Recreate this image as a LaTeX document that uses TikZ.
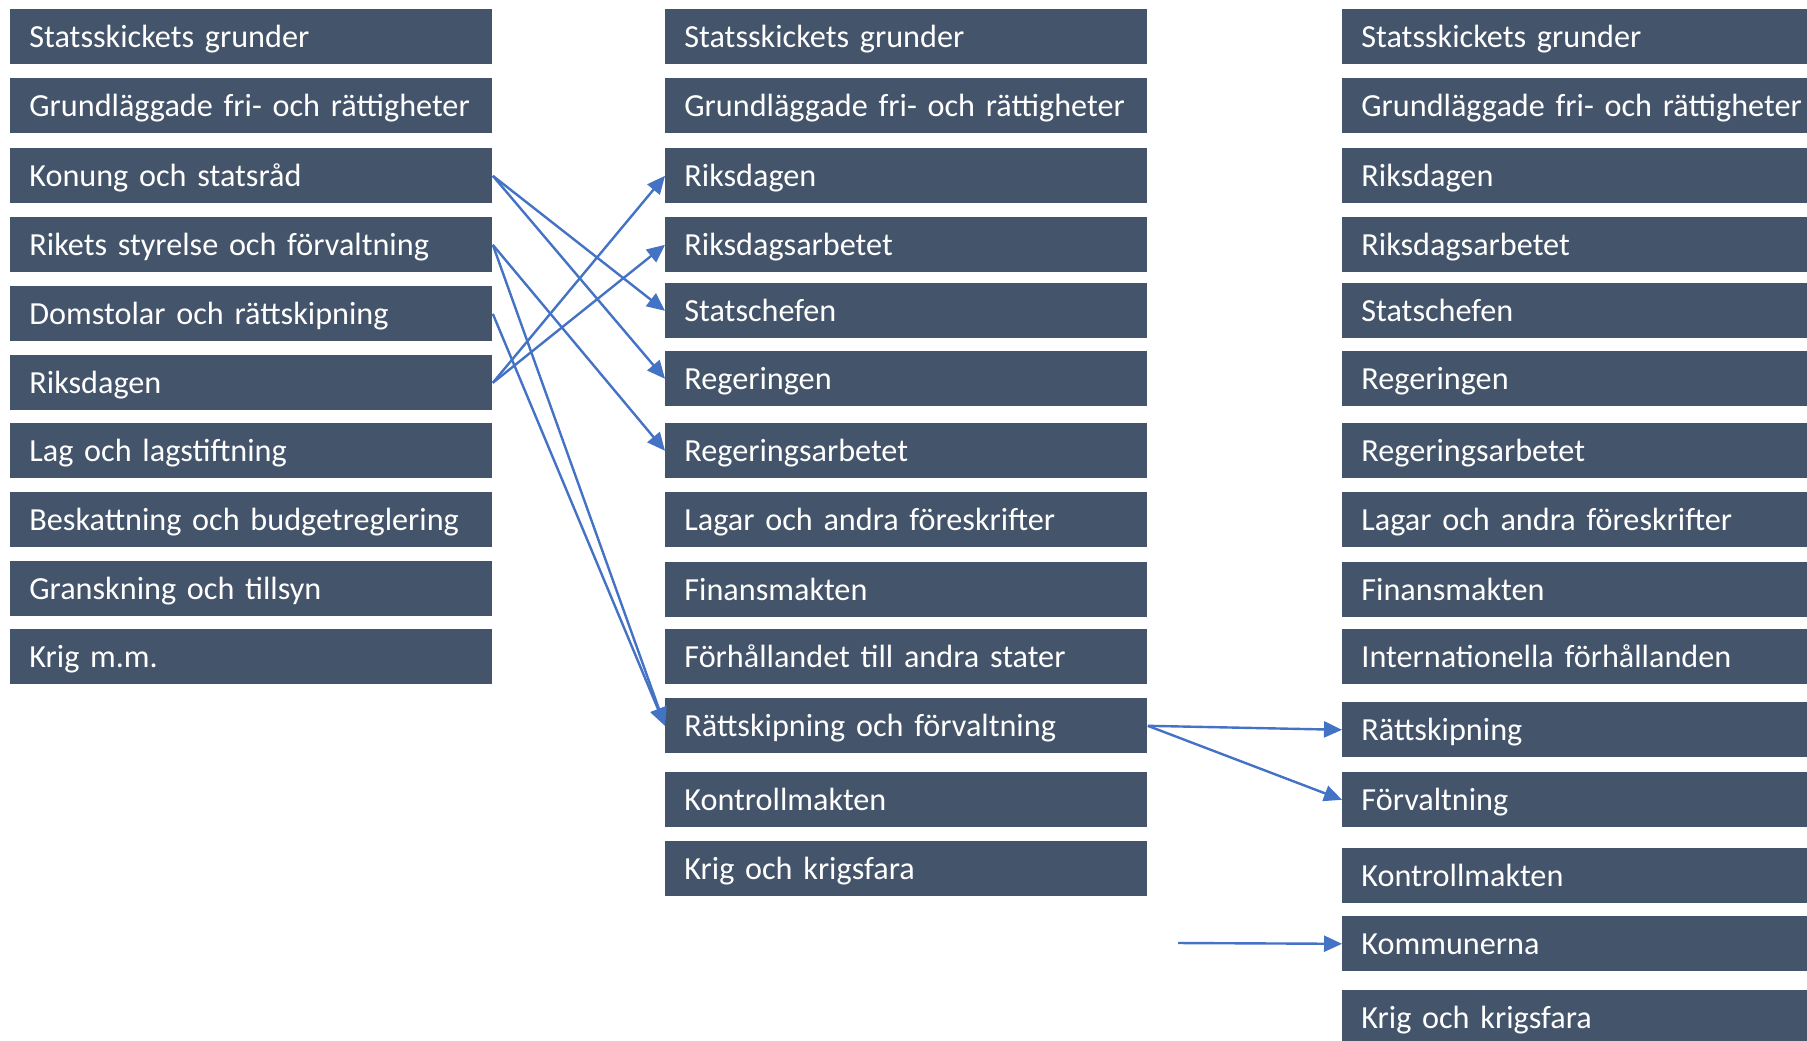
\documentclass[tikz,border=0pt]{standalone}
\usepackage{fontspec}
\setmainfont{Carlito}
\usetikzlibrary{arrows.meta}
\definecolor{boxfill}{HTML}{44546A}
\definecolor{arrowblue}{HTML}{4472C4}

\begin{document}
\begin{tikzpicture}[x=0.5pt,y=-0.5pt,
  lbox/.style={fill=boxfill,text=white,anchor=north west,minimum height=27.4pt,inner xsep=9.5pt,inner ysep=0pt,
    text width=222pt,align=left,text height=10.2pt,text depth=0pt,font=\fontsize{16.1}{18}\selectfont},
  link/.style={draw=arrowblue,line width=1.2pt,-{Triangle[length=9pt,width=8pt]}}]
\path[use as bounding box,clip] (0,0) rectangle (1807,1040);

% left column
\foreach \y/\t [count=\i] in {9/Statsskickets grunder,78/Grundläggade fri- och rättigheter,148/Konung och statsråd,
  217/Rikets styrelse och förvaltning,286/Domstolar och rättskipning,355/Riksdagen,423/Lag och lagstiftning,
  492/Beskattning och budgetreglering,561/Granskning och tillsyn,629/Krig m.m.} {
\node[lbox] (a\i) at (10,\y) {\t};
}

% middle column
\foreach \y/\t [count=\i] in {9/Statsskickets grunder,78/Grundläggade fri- och rättigheter,148/Riksdagen,
  217/Riksdagsarbetet,283/Statschefen,351/Regeringen,423/Regeringsarbetet,492/Lagar och andra föreskrifter,
  562/Finansmakten,629/Förhållandet till andra stater,698/Rättskipning och förvaltning,772/Kontrollmakten,
  841/Krig och krigsfara} {
\node[lbox] (b\i) at (665,\y) {\t};
}

% right column
\foreach \y/\t [count=\i] in {9/Statsskickets grunder,78/Grundläggade fri- och rättigheter,148/Riksdagen,
  217/Riksdagsarbetet,283/Statschefen,351/Regeringen,423/Regeringsarbetet,492/Lagar och andra föreskrifter,
  562/Finansmakten,629/Internationella förhållanden,702/Rättskipning,772/Förvaltning,848/Kontrollmakten,
  916/Kommunerna,990/Krig och krigsfara} {
\node[lbox] (c\i) at (1342,\y) {\t};
}

\draw[link] (a3.east) -- (b5.west);
\draw[link] (a3.east) -- (b6.west);
\draw[link] (a4.east) -- (b7.west);
\draw[link] (a4.east) -- (b11.west);
\draw[link] (a5.east) -- (b11.west);
\draw[link] (a6.east) -- (b3.west);
\draw[link] (a6.east) -- (b4.west);

\draw[link] (b11.east) -- (c11.west);
\draw[link] (b11.east) -- (c12.west);
\coordinate (kstart) at (1178,943);
\draw[link] (kstart) -- (c14.west);
\end{tikzpicture}
\end{document}
